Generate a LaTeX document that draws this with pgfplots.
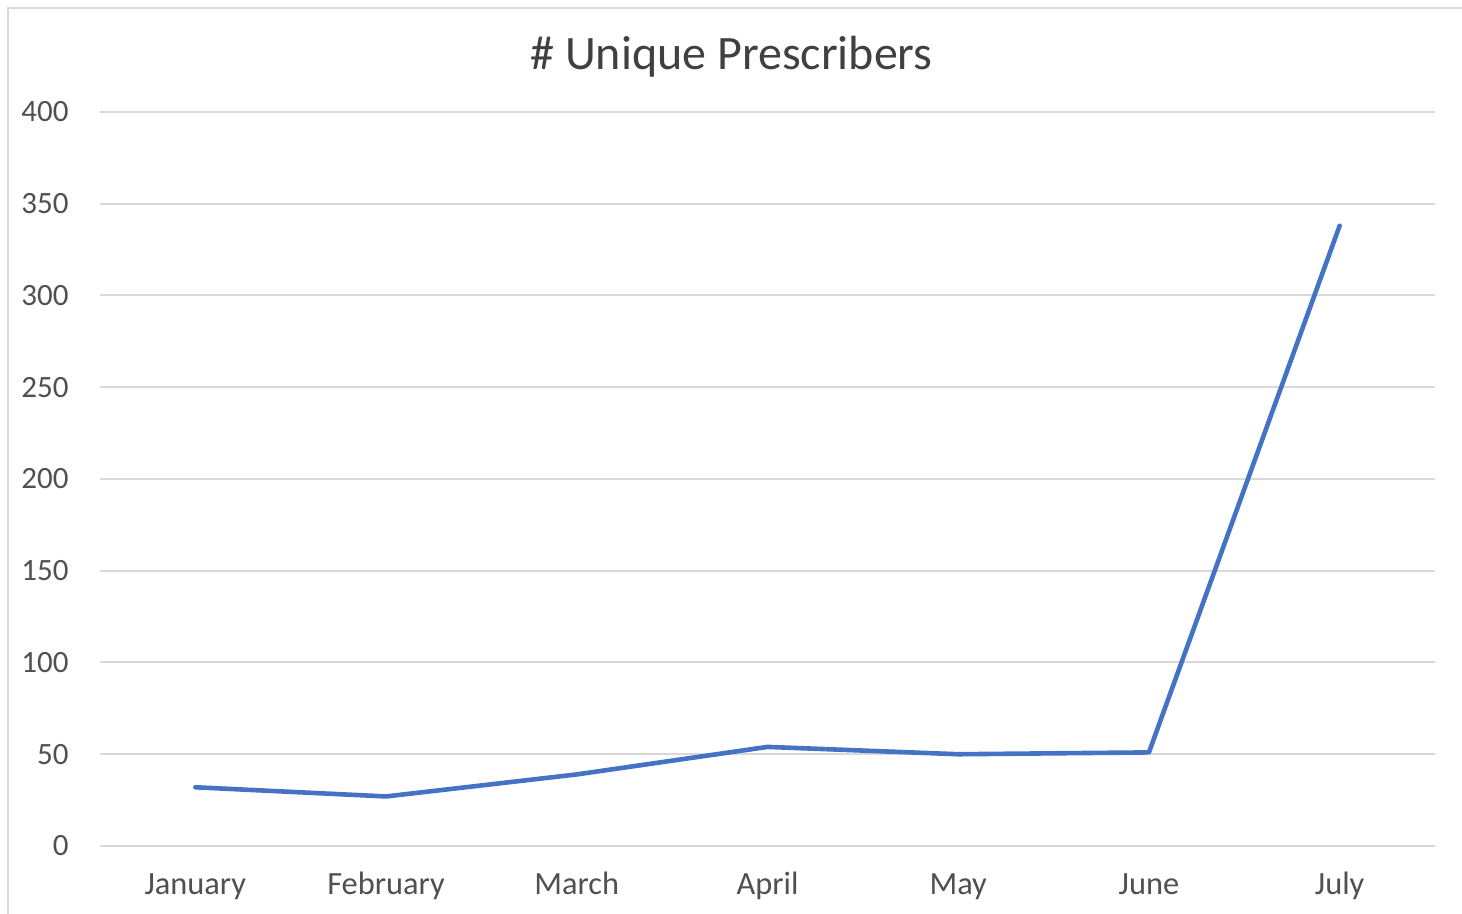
\documentclass[border=0pt]{standalone}
\usepackage{fontspec}
\setmainfont{Carlito}
\usepackage{pgfplots}
\pgfplotsset{compat=1.18}

\definecolor{lineblue}{HTML}{4472C4}
\definecolor{gridgray}{HTML}{D9D9D9}
\definecolor{framegray}{HTML}{D9D9D9}
\definecolor{labelgray}{HTML}{505050}
\definecolor{titlegray}{HTML}{404040}

\begin{document}
\begin{tikzpicture}
  % page extent and chart frame
  \useasboundingbox (-50pt,-34pt) rectangle (681pt,423pt);
  \draw[framegray, line width=1pt] (-46pt,-40pt) rectangle (690pt,419pt);

  \begin{axis}[
    at={(0pt,0pt)}, anchor=south west,
    scale only axis,
    width=667.5pt, height=367pt,
    xmin=-0.5, xmax=6.5,
    ymin=0, ymax=400,
    xtick={0,1,2,3,4,5,6},
    xticklabels={January,February,March,April,May,June,July},
    ytick={0,50,100,150,200,250,300,350,400},
    /pgf/number format/assume math mode=true,
    axis line style={draw=none},
    major tick length=0pt,
    ymajorgrids,
    major grid style={gridgray, line width=1pt},
    tick label style={font=\fontsize{15.5}{18}\selectfont, text=labelgray, inner sep=0pt},
    yticklabel style={anchor=east, xshift=-15.5pt},
    xticklabel style={anchor=base, yshift=-24.5pt, font=\fontsize{16.2}{19}\selectfont},
    title={\# Unique Prescribers},
    title style={at={(axis description cs:0.473,1.042)}, anchor=base, inner sep=0pt,
                 font=\fontsize{24}{29}\selectfont, text=titlegray},
    clip=false,
  ]
    \addplot[lineblue, line width=2.3pt, line join=round, line cap=round] coordinates {
      (0,32) (1,27) (2,39) (3,54) (4,50) (5,51) (6,338)
    };
  \end{axis}
\end{tikzpicture}
\end{document}
